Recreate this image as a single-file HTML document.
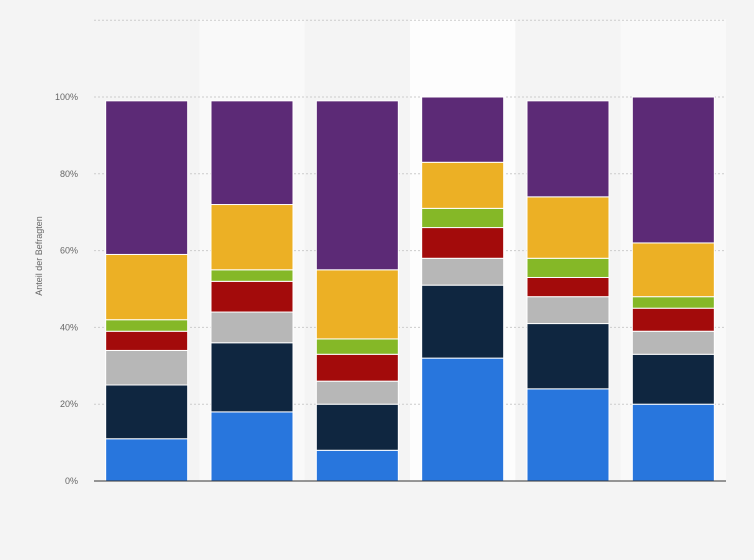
<!DOCTYPE html>
<html><head><meta charset="utf-8"><style>
body{margin:0;background:#f4f4f4;font-family:"Liberation Sans",sans-serif}
svg{display:block}
</style></head><body>
<svg id="chart" width="754" height="560" viewBox="0 0 754 560">
<rect width="754" height="560" fill="#f4f4f4"/>
<g id="bands"></g><g id="grid"></g><g id="bars"></g><g id="ticks"></g>
<line x1="94" x2="726" y1="481" y2="481" stroke="#333" stroke-width="1"/>
<text x="42" y="256" transform="rotate(-90 42 256)" text-anchor="middle" font-size="9" fill="#666">Anteil der Befragten</text>
</svg>
<script>
const categories=["1","2","3","4","5","6"];
const seriesNames=["s1","s2","s3","s4","s5","s6","s7"];
const colors=["#2876dd","#0f2640","#b7b7b7","#a30b0b","#85b827","#ecb025","#5c2a76"];
const s1=[11,18,8,32,24,20];
const s2=[14,18,12,19,17,13];
const s3=[9,8,6,7,7,6];
const s4=[5,8,7,8,5,6];
const s5=[3,3,4,5,5,3];
const s6=[17,17,18,12,16,14];
const s7=[40,27,44,17,25,38];
const series=[s1,s2,s3,s4,s5,s6,s7];
const yTicks=[0,20,40,60,80,100,120];
const tickLabels=["0%","20%","40%","60%","80%","100%",""];
const NS="http://www.w3.org/2000/svg";
const x0=94,x1=726,yb=481,ppu=3.84;
const band=(x1-x0)/categories.length;
const y=v=>yb-v*ppu;
function mk(t,a,p){const e=document.createElementNS(NS,t);for(const k in a)e.setAttribute(k,a[k]);p.appendChild(e);return e;}
const gB=document.getElementById('bands'),gG=document.getElementById('grid'),gBar=document.getElementById('bars'),gT=document.getElementById('ticks');
categories.forEach((c,i)=>{if(i%2==1){const r=mk('rect',{x:x0+i*band,y:19,width:band,height:yb-19,fill:i==3?'#fdfdfd':'#f9f9f9'},gB);

}});
yTicks.forEach((t,i)=>{if(t>0){const l=mk('line',{x1:x0,x2:x1,y1:y(t),y2:y(t),stroke:'#ccc','stroke-dasharray':'2,2'},gG);

}
if(tickLabels[i]){const tx=mk('text',{x:78,y:y(t)+3,'text-anchor':'end','font-size':'9',fill:'#666'},gT);tx.textContent=tickLabels[i];

}});
const bw=82;
categories.forEach((c,i)=>{let cum=0;const bx=x0+i*band+(band-bw)/2;
series.forEach((s,j)=>{const v=s[i];const r=mk('rect',{x:bx,y:y(cum+v),width:bw,height:v*ppu,fill:colors[j],stroke:'#fff','stroke-width':1},gBar);


cum+=v;});});
</script>
</body></html>
